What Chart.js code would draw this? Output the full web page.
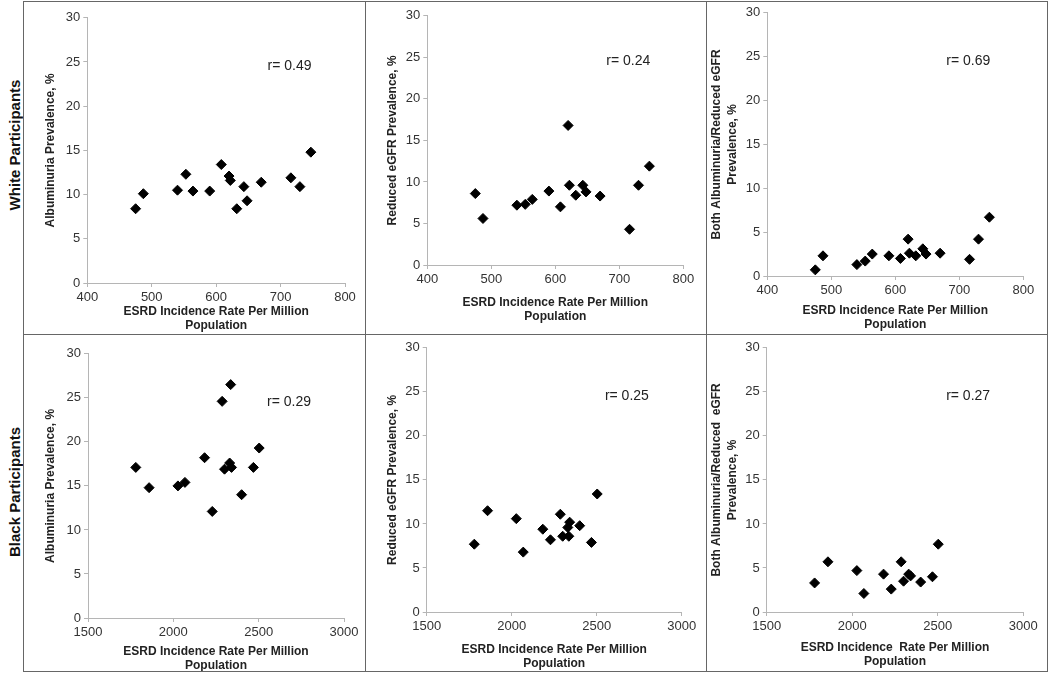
<!DOCTYPE html>
<html>
<head>
<meta charset="utf-8">
<script src="https://cdn.jsdelivr.net/npm/chart.js@4"></script>
<style>
  body { margin: 0; background: #fff; }
  #fig { position: relative; width: 1050px; height: 674px; overflow: hidden; background: #fff;
         font-family: "Liberation Sans", Arial, sans-serif; }
  .cv { position: absolute; }
  .line { position: absolute; background: #666; z-index: 2; }
  .rowlab { position: absolute; transform: translate(-50%, -50%) rotate(-90deg);
            font-weight: bold; font-size: 15px; white-space: nowrap; color: #111; }
</style>
</head>
<body>
<div id="fig">
  <div class="rowlab" style="left:14px; top:145px;">White Participants</div>
  <div class="rowlab" style="left:14px; top:492px;">Black Participants</div>
  <div class="line" style="left:23px; top:1px; width:1025px; height:1px;"></div>
  <div class="line" style="left:23px; top:671px; width:1025px; height:1px;"></div>
  <div class="line" style="left:23px; top:334px; width:1025px; height:1px;"></div>
  <div class="line" style="left:23px; top:1px; width:1px; height:671px;"></div>
  <div class="line" style="left:1047px; top:1px; width:1px; height:671px;"></div>
  <div class="line" style="left:365px; top:1px; width:1px; height:671px;"></div>
  <div class="line" style="left:706px; top:1px; width:1px; height:671px;"></div>
</div>
<script>
// White participants, one value per state
const whiteEsrd = [475, 487, 540, 553, 564, 590, 608, 620, 622, 632, 643, 648, 670, 716, 730, 747];
const whiteAlbuminuria = [8.4, 10.1, 10.5, 12.3, 10.4, 10.4, 13.4, 12.1, 11.6, 8.4, 10.9, 9.3, 11.4, 11.9, 10.9, 14.8];
const whiteEgfr = [8.6, 5.6, 7.2, 7.3, 7.9, 8.9, 7.0, 16.8, 9.6, 8.4, 9.6, 8.8, 8.3, 4.3, 9.6, 11.9];
const whiteBoth = [0.7, 2.3, 1.3, 1.7, 2.5, 2.3, 2.0, 4.2, 2.6, 2.3, 3.1, 2.5, 2.6, 1.9, 4.2, 6.7];

// Black participants
const blackEsrd = [1780, 1858, 2027, 2068, 2183, 2228, 2286, 2300, 2330, 2336, 2341, 2400, 2469, 2503];
const blackAlbuminuria = [17.1, 14.8, 15.0, 15.4, 18.2, 12.1, 24.6, 16.9, 17.6, 26.5, 17.1, 14.0, 17.1, 19.3];
const blackEgfr = [7.7, 11.5, 10.6, 6.8, 9.4, 8.2, 11.1, 8.6, 9.6, 8.6, 10.2, 9.8, 7.9, 13.4];
const blackBoth = [3.3, 5.7, 4.7, 2.1, 4.3, 2.6, 5.7, 3.5, 4.3, null, 4.1, 3.4, 4.0, 7.7];

const rWhite = ['r= 0.49', 'r= 0.24', 'r= 0.69'];
const rBlack = ['r= 0.29', 'r= 0.25', 'r= 0.27'];

const whiteTicks = { min: 400, max: 800, step: 100 };
const blackTicks = { min: 1500, max: 3000, step: 500 };
const yTicks = { min: 0, max: 30, step: 5 };

const FONT = '"Liberation Sans", Arial, sans-serif';
const fig = document.getElementById('fig');

// texto r= dentro del grafico
const rLabel = {
    id: 'rLabel',
    afterDatasetsDraw(chart, args, opts) {
        const { ctx, scales: { x, y } } = chart;
        const px = x.getPixelForValue(x.min + (x.max - x.min) * 0.785);
        const py = y.getPixelForValue(24.5);
        ctx.save();
        ctx.font = '14px ' + FONT;
        ctx.fillStyle = '#222';
        ctx.textAlign = 'center';
        ctx.textBaseline = 'middle';
        ctx.fillText(opts.text, px, py);
        ctx.restore();
    }
};

const makePanel = (p, xs, ys, xr, yTitle, xTitle, rText) => {
    const padTop = 10, padR = 18, hx = p.hx;
    const left = Math.round(p.x0 - p.wy);
    const top = Math.round(p.yT - padTop);
    const wy = p.x0 - left;
    const width = Math.round(p.x1 - left + padR);
    const height = Math.round(p.yB - top + hx);

    const cv = document.createElement('canvas');
    cv.width = width;
    cv.height = height;
    cv.className = 'cv';
    cv.style.left = left + 'px';
    cv.style.top = top + 'px';
    fig.appendChild(cv);

    const points = xs.map((v, i) => ({ x: v, y: ys[i] })).filter(d => d.y !== null);
    const twoLines = Array.isArray(yTitle);

    new Chart(cv, {
        type: 'scatter',
        data: {
            datasets: [{
                data: points,
                pointStyle: 'rectRot',
                pointRadius: 5,
                borderWidth: 1,
                backgroundColor: '#000',
                borderColor: '#000'
            }]
        },
        options: {
            responsive: false,
            animation: false,
            layout: { padding: { top: p.yT - top, right: width - (p.x1 - left), left: 0, bottom: 0 } },
            plugins: { legend: { display: false }, tooltip: { enabled: false }, rLabel: { text: rText } },
            scales: {
                x: {
                    type: 'linear',
                    min: xr.min, max: xr.max,
                    afterFit: (s) => { s.height = hx; },
                    ticks: {
                        stepSize: xr.step, padding: 3, color: '#333', maxRotation: 0,
                        font: { family: FONT, size: 13 },
                        callback: (v) => String(v)
                    },
                    grid: { drawOnChartArea: false, drawTicks: true, tickLength: 4, color: '#b5b5b5' },
                    border: { display: true, color: '#b5b5b5' },
                    title: {
                        display: true, text: xTitle, color: '#222', padding: 0,
                        font: { family: FONT, size: 12, weight: 'bold', lineHeight: 14 / 12 }
                    }
                },
                y: {
                    min: yTicks.min, max: yTicks.max,
                    afterFit: (s) => { s.width = wy; },
                    ticks: { stepSize: yTicks.step, padding: 3, color: '#333', font: { family: FONT, size: 13 } },
                    grid: { drawOnChartArea: false, drawTicks: true, tickLength: 4, color: '#b5b5b5' },
                    border: { display: true, color: '#b5b5b5' },
                    title: {
                        display: true, text: yTitle, color: '#222', padding: 0,
                        font: { family: FONT, size: 12, weight: 'bold', lineHeight: twoLines ? 1.3 : 1.2 }
                    }
                }
            }
        },
        plugins: [rLabel]
    });
};

const esrdTitle = ['ESRD Incidence Rate Per Million', 'Population'];

makePanel({ x0: 87.3, x1: 345, yT: 17.3, yB: 282.7, wy: 44.5, hx: 50 }, whiteEsrd, whiteAlbuminuria, whiteTicks,
    'Albuminuria Prevalence, %', esrdTitle, rWhite[0]);
makePanel({ x0: 427.3, x1: 683.3, yT: 15, yB: 265, wy: 42.5, hx: 59 }, whiteEsrd, whiteEgfr, whiteTicks,
    'Reduced eGFR Prevalence, %', esrdTitle, rWhite[1]);
makePanel({ x0: 767.3, x1: 1023.3, yT: 11.7, yB: 275.7, wy: 58.4, hx: 56 }, whiteEsrd, whiteBoth, whiteTicks,
    ['Both Albuminuria/Reduced eGFR', 'Prevalence, %'], esrdTitle, rWhite[2]);

makePanel({ x0: 88, x1: 344, yT: 353.3, yB: 617.7, wy: 45.2, hx: 55 }, blackEsrd, blackAlbuminuria, blackTicks,
    'Albuminuria Prevalence, %', esrdTitle, rBlack[0]);
makePanel({ x0: 426.7, x1: 681.7, yT: 347.3, yB: 611.7, wy: 42, hx: 59 }, blackEsrd, blackEgfr, blackTicks,
    'Reduced eGFR Prevalence, %', esrdTitle, rBlack[1]);
makePanel({ x0: 766.7, x1: 1023.3, yT: 346.7, yB: 612.3, wy: 57.5, hx: 57 }, blackEsrd, blackBoth, blackTicks,
    ['Both Albuminuria/Reduced  eGFR', 'Prevalence, %'], ['ESRD Incidence  Rate Per Million', 'Population'], rBlack[2]);
</script>
</body>
</html>
